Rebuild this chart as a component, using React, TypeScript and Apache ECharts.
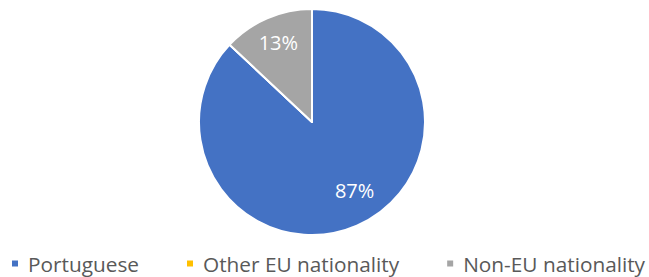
import React, { useEffect, useRef } from "react";
import * as echarts from "echarts";

const categories = ["Portuguese", "Other EU nationality", "Non-EU nationality"];
const shares = [87, 0, 13];
const colors = ["#4472C4", "#FFC000", "#A5A5A5"];
const labelShift: Record<number, [number, number]> = { 0: [19, 14], 2: [-10, -25] };

export default function App() {
  const ref = useRef<HTMLDivElement>(null);
  useEffect(() => {
    if (!ref.current) return;
    const chart = echarts.init(ref.current, undefined, { renderer: "svg" });
    chart.setOption({
      animation: false,
      color: colors,
      legend: {
        data: categories,
        left: 10,
        top: 253,
        width: 700,
        padding: 0,
        icon: "rect",
        itemWidth: 8,
        itemHeight: 8,
        itemGap: 46,
        textStyle: {
          fontFamily: "Open Sans",
          fontSize: 20.8,
          lineHeight: 20,
          color: "#595959",
          padding: [0, 0, 0, 4],
        },
      },
      series: [
        {
          type: "pie",
          center: [312, 122],
          radius: 113,
          startAngle: 90,
          clockwise: true,
          avoidLabelOverlap: false,
          itemStyle: { borderColor: "#ffffff", borderWidth: 2 },
          label: {
            show: true,
            position: "inside",
            fontFamily: "Open Sans",
            fontSize: 20,
            color: "#ffffff",
            formatter: (p: any) => (p.value > 0 ? `${p.value}%` : ""),
          },
          labelLayout: (p: any) => {
            const s = labelShift[p.dataIndex] || [0, 0];
            return { dx: s[0], dy: s[1] };
          },
          labelLine: { show: false },
          emphasis: { disabled: true },
          data: categories.map((name, i) => ({ name, value: shares[i] })),
        },
      ],
    });
    return () => chart.dispose();
  }, []);
  return (
    <div
      ref={ref}
      style={{ position: "absolute", left: 0, top: 0, width: 649, height: 277 }}
    />
  );
}
